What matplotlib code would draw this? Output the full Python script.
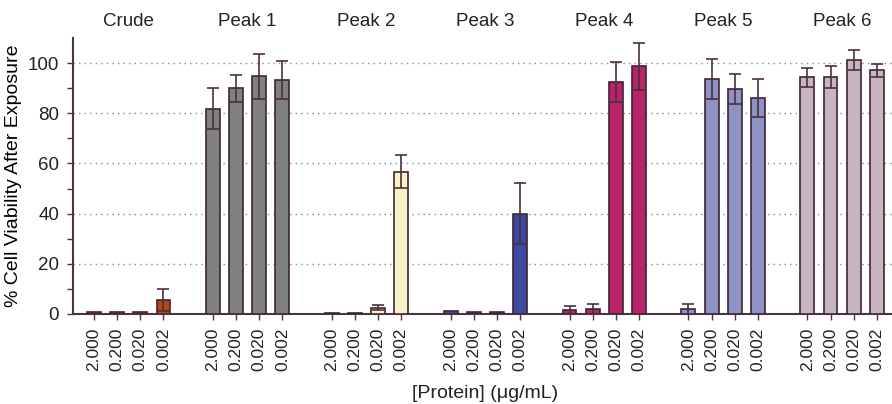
import matplotlib
matplotlib.use("Agg")
import matplotlib.pyplot as plt
import numpy as np

# ── data ────────────────────────────────────────────────
groups = ["Crude", "Peak 1", "Peak 2", "Peak 3", "Peak 4", "Peak 5", "Peak 6"]
concentrations = ["2.000", "0.200", "0.020", "0.002"]

viability = [
    [0.9, 0.9, 0.6, 5.6],
    [81.9, 89.9, 94.7, 93.2],
    [0.3, 0.3, 2.4, 56.7],
    [1.0, 0.8, 0.9, 40.0],
    [1.6, 2.0, 92.4, 98.7],
    [1.9, 93.5, 89.8, 86.2],
    [94.3, 94.4, 101.3, 97.1],
]
errors = [
    [0.0, 0.0, 0.0, 4.3],
    [8.3, 5.3, 8.9, 7.7],
    [0.0, 0.0, 1.0, 6.5],
    [0.0, 0.0, 0.0, 12.2],
    [1.6, 1.9, 8.1, 9.5],
    [2.1, 8.0, 6.0, 7.6],
    [3.7, 4.4, 4.0, 2.6],
]
colors = ["#b44810", "#808080", "#fbf1c6", "#3c4aa0",
          "#b8246a", "#8e92c4", "#c9b5bf"]

# ── style ───────────────────────────────────────────────
plt.rcParams["font.family"] = ["Liberation Sans", "DejaVu Sans"]
plt.rcParams["font.size"] = 13.5
plt.rcParams["text.color"] = "#222222"

EDGE = "#3d2535"
GROUP_STEP = 5.125
BAR_W = 0.6

fig = plt.figure(figsize=(8.92, 4.04), dpi=100)
ax = fig.add_axes([73 / 892, 90 / 404, 1 - 73 / 892, 276 / 404])

tick_pos = []
tick_lab = []
for g, name in enumerate(groups):
    x = g * GROUP_STEP + np.arange(len(concentrations))
    ax.bar(x, viability[g], width=BAR_W, color=colors[g],
           edgecolor=EDGE, linewidth=1.2, zorder=3)
    err = np.array(errors[g])
    mask = err > 0
    ax.errorbar(x[mask], np.array(viability[g])[mask], yerr=err[mask],
                fmt="none", ecolor="#4a3040", elinewidth=1.2,
                capsize=4, capthick=1.2, zorder=4)
    ax.annotate(name, xy=(x.mean(), 1.058), xycoords=("data", "axes fraction"),
                ha="center", va="center", fontsize=13.5)
    tick_pos.extend(x)
    tick_lab.extend(concentrations)

ax.set_xlim(-0.9, 34.4)
ax.set_ylim(0, 110)
ax.set_yticks([0, 20, 40, 60, 80, 100])
ax.set_yticks(np.arange(10, 110, 20), minor=True)
ax.set_xticks(tick_pos)
ax.set_xticklabels(tick_lab, rotation=90)

for y in [20, 40, 60, 80, 100]:
    ax.axhline(y, color="#888888", linestyle=(0, (1, 3)), linewidth=1.0, zorder=1)

for side in ["top", "right"]:
    ax.spines[side].set_visible(False)
for side in ["left", "bottom"]:
    ax.spines[side].set_color("#4d3344")
    ax.spines[side].set_linewidth(1.5)

ax.tick_params(axis="y", which="major", length=4, width=1, color="#4d3344",
               pad=6, labelsize=13.5, labelcolor="#222222")
ax.tick_params(axis="y", which="minor", length=4, width=1, color="#4d3344")
ax.tick_params(axis="x", length=4, width=1, color="#4d3344", pad=6,
               labelsize=12.5, labelcolor="#222222")

ax.set_ylabel("% Cell Viability After Exposure", fontsize=14, labelpad=4)
fig.text(485 / 892, 1 - 394 / 404, "[Protein] (\u03bcg/mL)", fontsize=14,
         ha="center", va="center")

fig.savefig("out.png", dpi=100)
